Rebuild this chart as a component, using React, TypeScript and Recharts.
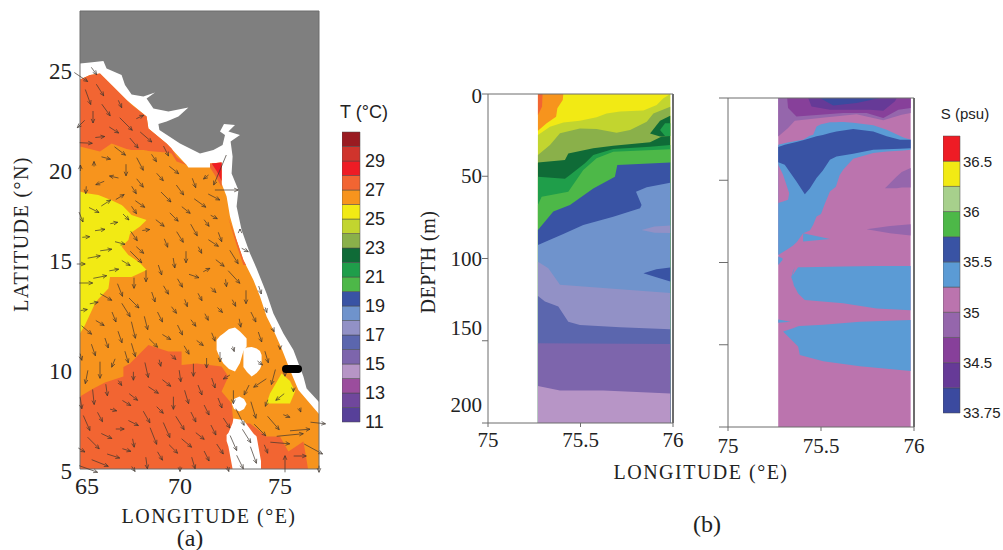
import React from 'react';
import {
  Area,
  Bar,
  BarChart,
  ComposedChart,
  ReferenceLine,
  Scatter,
  XAxis,
  YAxis,
} from 'recharts';

type Pair = number[];

const SERIF = '"Liberation Serif", serif';
const SANS = '"Liberation Sans", sans-serif';
const AXIS_GREY = '#6d6d6d';

// colour scales, top of the bar first
const tempColors = ['#9a1b21', '#d0342c', '#ee1c25', '#f26532', '#f7941d', '#f2ea14', '#c2d52f', '#8ab04a', '#0f6b37', '#1f9e4a', '#4db848', '#3953a4', '#6f93cc', '#9291c6', '#5b66ae', '#7d65ac', '#b795c6', '#9b4d9d', '#70479c', '#574099'];
const tempTickIndex = [0, 2, 4, 6, 8, 10, 12, 14, 16, 18];
const tempTickLabels = ['11', '13', '15', '17', '19', '21', '23', '25', '27', '29'];
const salColors = ['#ee1c25', '#f2ea14', '#a7d08c', '#4db848', '#3953a4', '#5b9bd5', '#bb74ae', '#9566ac', '#87409a', '#663a97', '#3b4a9f'];
const salTickIndex = [0, 2, 4, 6, 8, 10];
const salTickLabels = ['33.75', '34.5', '35', '35.5', '36', '36.5'];

const MAP_COLORS = { land: '#7f7f7f', white: '#ffffff', warm: '#f7941d', hot: '#f26532', red: '#ee1c25', cool: '#f2ea14' };

// map (a): [lon, lat] coast line and [lon, low lat, high lat] patches
const coastEdge: Pair[] = [[65, 25.28], [65.5, 25.32], [66.17, 25.4], [66.33, 25.03], [67.08, 24.7], [67.25, 24.2], [67.58, 23.73], [68.17, 23.62], [68.75, 23.83], [68.33, 23.53], [68.67, 23.03], [69.42, 22.87], [70.42, 23.07], [69.92, 22.62], [69.33, 22.37], [68.92, 22.25], [68.97, 21.95], [70, 21.28], [71, 20.78], [71.67, 20.95], [72.13, 21.2], [72.25, 21.7], [72, 21.87], [72.2, 22.25], [72.75, 22.2], [72.42, 21.87], [73, 21.7], [72.53, 21.37], [72.63, 20.62], [72.58, 19.78], [72.92, 18.95], [72.83, 18.12], [73.08, 16.95], [73.5, 15.78], [73.83, 15.03], [74.33, 13.78], [74.67, 12.78], [75.17, 11.78], [75.67, 10.95], [76.17, 9.62], [76.33, 9.03], [76.95, 8.35]];
const seaEdge: Pair[] = [[65, 24.48], [65.5, 24.7], [66, 24.78], [66.58, 24.2], [67.33, 23.45], [68.33, 22.62], [68.42, 22.03], [69.33, 21.28], [70.33, 20.2], [70.42, 20.08], [71.5, 20.08], [71.5, 20.28], [72.08, 20.32], [72.08, 19.28], [72.33, 18.62], [72.5, 17.62], [72.83, 16.45], [73.17, 15.45], [73.42, 14.95], [73.67, 14.45], [74, 13.62], [74.33, 12.62], [74.67, 11.95], [75.08, 11.03], [75.5, 9.95], [75.92, 8.95], [76.95, 7.75]];
const northHot: Pair[] = [[65, 21.12, 24.48], [65.5, 21, 24.7], [66, 20.87, 24.78], [66.58, 21.28, 24.2], [67.33, 21, 23.45], [67.58, 20.95, 23.2], [68.17, 20.95, 22.75], [68.33, 20.93, 22.62], [68.42, 20.9, 22.03], [69.33, 20.82, 21.28], [69.58, 20.78, 21.03], [69.83, 20.37, 20.6], [70.33, 20.2, 20.2]];
const gulfHot: Pair[] = [[71.5, 20.08, 20.28], [71.8, 19.6, 20.3], [72.08, 19.1, 20.32]];
const gulfRed: Pair[] = [[71.6, 20.25, 20.28], [71.83, 19.9, 20.3], [72.08, 19.4, 20.32]];
const coastHot: Pair[] = [[72.4, 17.6, 17.6], [72.83, 16.2, 16.45], [73.17, 15.2, 15.45], [73.3, 15.2, 15.2]];
const westCool: Pair[] = [[65, 11.78, 18.87], [65.25, 12.2, 18.8], [65.75, 13.28, 18.72], [65.92, 13.5, 18.7], [66.42, 14.03, 18.5], [66.5, 14.6, 18.47], [67.08, 14.6, 18.2], [67.17, 14.6, 18.12], [67.58, 14.6, 17.7], [68.33, 14.95, 17.45]];
const coolNotch: Pair[] = [[67.08, 16.12, 16.12], [67.42, 15.7, 16.45], [67.5, 15.65, 16.78], [68, 15.3, 17.12], [68.33, 14.95, 17.45], [68.6, 14.7, 17.6]];
const southHotEdge: Pair[] = [[65, 8.62], [65.67, 9.03], [66.25, 9.32], [67.17, 9.62], [67.17, 10.1], [67.5, 10.28], [67.92, 10.7], [68.42, 11.2], [69.42, 10.87], [70.08, 10.87], [70.08, 10.2], [70.83, 10.28], [72.08, 10.12], [72.42, 9.62], [72.08, 8.87], [72.58, 8.28], [72.67, 7.3], [73.5, 7.28], [74.33, 6.62], [75, 6.62], [75.42, 5.87], [76.17, 6.37], [76.33, 5.45], [76.4, 5]];
const southCool: Pair[] = [[74.33, 8.28, 8.28], [74.5, 8.28, 8.78], [75.08, 8.28, 9.78], [75.5, 8.28, 9.4], [75.75, 8.87, 8.87]];
const holeUpper: Pair[] = [[71.83, 10.95, 11.45], [72, 10.55, 11.65], [72.17, 10.28, 11.78], [72.45, 10, 12], [72.75, 9.87, 12.07], [73, 10.3, 11.87], [73.17, 10.9, 11.7], [73.33, 11.12, 11.53]];
const holeRight: Pair[] = [[73.17, 10.1, 11], [73.35, 9.85, 11.08], [73.58, 9.62, 11.1], [73.83, 9.8, 11.03], [74, 10, 10.9], [74.08, 10.2, 10.7]];
const holeRound: Pair[] = [[72.6, 8.25, 8.25], [72.7, 8, 8.5], [72.97, 7.87, 8.62], [73.2, 8, 8.5], [73.33, 8.25, 8.25]];
const holeSouth: Pair[] = [[72.33, 6.4, 6.7], [72.42, 6.12, 6.8], [72.63, 5, 7.3], [72.67, 5, 7.53], [73.17, 5, 7.45], [73.67, 5, 6.78], [73.83, 5, 6.62], [74.05, 5, 5.4]];
const transectLon = [75.3, 75.4, 75.5, 75.6, 75.7, 75.8, 75.9];
const transectLat = 10;
const mapTopTicks = [67, 69.33, 71.66, 74, 76.3];

// wind arrows: [lon, lat, u, v], lon/lat at the middle of the arrow
const windVectors: Pair[] = [
  [65.05, 24.6, 0.67, -0.45], [65.7, 24.9, 0.27, -0.37], [66, 23.95, 0.37, -0.58], [65.4, 23.6, 0.27, -0.75], [67, 23.25, 0.17, -0.37], [66.3, 22.95, 0.42, -0.58], [65.65, 22.6, 0, -0.6], [68, 22.6, 0.37, 0.17], [67.3, 22.25, 0.63, -0.63], [65.05, 22.25, -0.37, -0.37],
  [66.7, 21.95, 0.47, -0.3], [68.3, 21.6, 0.58, -0.5], [66, 21.6, 0.47, 0.05], [67.7, 21.3, 0.42, -0.5], [65.3, 21.3, 0.63, -0.03], [69.3, 20.9, 0.25, -0.5], [67, 20.9, 0.55, -0.42], [66.3, 20.55, 0.45, -0.12], [68.7, 20.55, 0.25, -0.37], [65.7, 20.25, 0, 0.25],
  [68, 20.25, 0.33, -0.63], [69.7, 19.95, 0.47, -0.37], [65.02, 20.05, 0, 0.3], [67.3, 19.95, 0, -0.58], [69, 19.6, 0.33, -0.37], [71.3, 19.6, -0.25, -0.2], [66.7, 19.6, -0.45, 0.1], [68, 19.3, 0.33, -0.42], [70.7, 19.3, 0.17, -0.47], [66, 19.3, -0.42, -0.17],
  [70, 18.95, 0.37, -0.5], [65.3, 18.95, -0.03, -0.37], [67.7, 18.95, 0.23, -0.37], [72, 19.95, -0.63, -1.5], [72.33, 18.95, 1.17, 0], [69.3, 18.6, 0.5, -0.5], [67, 18.6, 0.42, 0.25], [71.7, 18.6, 0.58, -0.3], [68, 18.25, 0.47, -0.33], [71, 18.3, 0.58, -0.42],
  [66.3, 18.3, 0.47, 0.3], [65.7, 17.95, 0.5, -0.25], [67.7, 17.95, 0.25, -0.37], [70.3, 17.95, 0.42, -0.33], [65.05, 17.6, 0.2, -0.5], [67.3, 17.6, 0.3, -0.3], [69.7, 17.6, 0.42, -0.42], [71.7, 17.6, 0.33, -0.17], [66.7, 17.3, 0.37, 0.07], [69, 17.3, 0.42, -0.33],
  [71.33, 17.3, 0.25, -0.33], [66, 16.95, 0.5, 0.07], [68.3, 16.95, 0.37, 0.05], [70.7, 16.95, 0.33, -0.58], [73, 16.95, 0, 0.1], [65.3, 16.6, 0.37, 0.03], [67.7, 16.65, 0.33, -0.47], [70, 16.6, 0.33, -0.53], [72, 16.6, 0.17, -0.47], [67, 16.3, 0.5, -0.13],
  [69.3, 16.3, 0.17, -0.42], [71.67, 16.3, 0.5, -0.33], [66.3, 15.95, 0.58, 0.08], [68, 15.95, 0.37, -0.33], [71, 15.95, 0.17, -0.33], [73.25, 15.95, 0.33, -0.17], [65.7, 15.6, 0.63, 0.12], [67.8, 15.6, 0.58, -0.58], [70.3, 15.6, 0, -0.58], [72.7, 15.6, 0.42, -0.67],
  [67.3, 15.3, 0.42, -0.25], [69.7, 15.3, 0.08, -0.5], [72, 15.3, 0.42, -0.33], [65.05, 15.25, 0.42, 0], [69, 14.95, 0.17, -0.5], [66.7, 14.95, 0.47, 0.08], [71.33, 14.95, 0.33, 0.17], [68.3, 14.65, 0, -0.58], [70.7, 14.65, 0.5, -0.17], [66, 14.6, 0.67, 0.13],
  [72.7, 14.6, 0.58, -0.63], [65.3, 14.3, 0.67, 0], [67.7, 14.3, 0, -0.53], [70, 14.3, 0.25, -0.42], [72.3, 14.3, 0.05, -0.37], [67, 13.95, 0.25, -0.63], [69.3, 13.95, 0.25, -0.42], [71.67, 13.95, 0.25, -0.25], [74, 13.95, 0.13, -0.4], [66.3, 13.6, 0.58, -0.33],
  [68.67, 13.6, 0.17, -0.5], [71, 13.6, 0.2, -0.37], [73.3, 13.6, 0, -0.67], [65.7, 13.3, 0.42, 0.08], [67.7, 13.3, 0.5, -0.5], [70.3, 13.3, 0.13, -0.37], [72.7, 13.3, 0.17, -0.33], [65.2, 12.95, 0.33, 0.05], [67.3, 12.95, 0.42, -0.67], [69.7, 12.95, 0.25, -0.33],
  [72, 12.95, 0.25, -0.25], [74.3, 12.95, 0.08, -0.25], [66.7, 12.6, 0.2, -0.5], [69, 12.6, 0.25, -0.5], [71.33, 12.6, 0.17, -0.33], [73.67, 12.6, 0.25, -0.5], [66, 12.3, 0.42, -0.25], [68.3, 12.3, 0.17, -0.67], [70.67, 12.3, 0.25, -0.33], [73, 12.3, 0.08, -0.42],
  [65.33, 11.95, 0.5, -0.42], [67.67, 11.95, 0.2, -0.83], [70, 11.95, 0.25, -0.5], [74.67, 11.95, 0.08, -0.17], [67, 11.6, 0.2, -0.58], [69.33, 11.6, 0.42, -0.25], [71.67, 11.6, 0.17, -0.42], [74, 11.6, 0.17, -0.5], [66.33, 11.3, 0.17, -0.5], [68.67, 11.3, 0.42, -0.42],
  [71, 11.3, 0.33, -0.25], [65.67, 10.95, 0.2, -0.58], [67.67, 10.95, 0.2, -0.67], [70.33, 10.95, 0.25, -0.42], [72.67, 11, 0.08, -0.25], [75, 11.05, 0, -0.15], [65.05, 10.6, 0.08, -0.33], [67.33, 10.6, 0.17, -0.58], [69.67, 10.6, 0.25, -0.25], [72, 10.6, 0, -0.5],
  [74.33, 10.6, 0.17, -0.58], [66.67, 10.3, -0.17, -0.42], [69, 10.3, 0.08, -0.33], [74, 10.3, 0.25, -0.2], [66, 9.95, 0, -0.83], [68.33, 9.95, 0.17, -0.75], [70.67, 9.95, 0, -0.63], [71.33, 10.3, 0, -0.5], [65.33, 9.6, -0.13, -0.67], [67.67, 9.65, 0, -0.42],
  [70, 9.65, 0.08, -0.58], [72.33, 9.6, -0.33, -0.2], [74.67, 9.6, -0.2, -0.75], [75.25, 9.85, 0, -0.42], [67, 9.3, 0.17, -0.25], [69.33, 9.3, 0.42, -0.33], [71.67, 9.3, 0.17, -0.5], [74, 9.3, -0.63, -0.42], [66.33, 8.95, 0.08, -0.58], [68.67, 8.95, 0.5, -0.33],
  [71, 8.95, 0.2, -0.5], [73.33, 8.95, -0.25, -0.5], [75.67, 8.95, 0, -0.17], [65.67, 8.6, 0.08, -0.75], [67.67, 8.6, 0.42, -0.33], [70.33, 8.6, 0.2, -0.67], [72.67, 8.6, 0, -0.67], [75, 8.6, -0.42, -0.33], [65.05, 8.3, 0.08, -0.58], [67.33, 8.3, 0.42, -0.25],
  [69.67, 8.3, 0, -0.63], [72, 8.3, 0.2, -0.5], [74.33, 8.3, -0.13, -0.33], [66.67, 7.95, 0.33, -0.08], [69, 7.95, 0.33, -0.33], [71.33, 7.95, 0.25, -0.5], [73.67, 7.95, 0.25, -0.83], [76, 7.95, 0.08, -0.2], [66, 7.6, 0.25, -0.47], [68.33, 7.6, 0.33, -0.58],
  [70.67, 7.6, 0.25, -0.5], [73, 7.6, 0.42, -0.83], [75.33, 7.65, 0.33, -0.13], [65.33, 7.3, 0.33, -0.75], [67.67, 7.3, 0.5, -0.25], [70, 7.3, 0.42, -0.67], [72.33, 7.3, 0.33, -0.5], [74.67, 7.3, 0.58, -0.67], [76.9, 7.3, 0.75, -0.08], [67, 7, 0.42, 0],
  [69.33, 6.95, 0.33, -0.75], [71.67, 6.95, 0.25, -0.5], [74, 6.95, 0.58, -0.58], [76, 6.95, 1, 0.08], [75.5, 6.7, 1.33, 0.13], [66.33, 6.65, 0.53, -0.25], [68.67, 6.65, 0.33, -0.83], [71, 6.65, 0.42, -0.33], [73.33, 6.65, 0.42, -0.67], [65.67, 6.3, 0.58, -0.58],
  [67.67, 6.3, 0.08, -0.42], [70.33, 6.3, 0.5, -0.42], [72.67, 6.3, 0.33, -0.75], [75, 6.3, 0.97, -0.08], [76.67, 6, 0.92, -0.5], [65.08, 5.95, 0.33, -0.2], [67.33, 5.95, 0.42, -0.13], [69.67, 6, 0.42, -0.42], [72, 6, 0.33, -0.5], [74.3, 6, 0.17, -0.42],
  [66.67, 5.65, 0.63, -0.2], [69, 5.65, 0.25, -0.42], [71.33, 5.65, 0.25, -0.5], [73.67, 5.7, 0.3, -0.83], [76, 5.65, 0.63, 0], [66, 5.3, 0.83, -0.33], [68.33, 5.3, 0.08, -0.58], [70.67, 5.3, 0.17, -0.58], [73, 5.35, 0.33, -0.67], [75.25, 5.25, 0, 0.83],
  [65.42, 5, 0.92, -0.33], [67.67, 5, 0.17, -0.25], [70, 5, 0, -0.25], [72.4, 5, 0.08, -0.25], [76.95, 5, 0, -0.33],
];

// section (b) temperature: [lon, depth] top edge of each layer
const tYellow: Pair[] = [[75.27, 0], [75.985, 0]];
const tOrange: Pair[] = [[75.27, 22.3], [75.317, 17.8], [75.368, 13.8], [75.375, 8.7], [75.404, 3.6], [75.407, 0]];
const tOrangeRed: Pair[] = [[75.27, 12.8], [75.292, 7.7], [75.295, 0]];
const tYellowGreen: Pair[] = [[75.27, 24.9], [75.335, 19.9], [75.407, 17.4], [75.497, 16.2], [75.587, 14.2], [75.641, 11.8], [75.714, 10.7], [75.84, 10.1], [75.912, 6.7], [75.948, 2.6], [75.985, 0]];
const tOlive: Pair[] = [[75.27, 37.1], [75.335, 31], [75.389, 23.9], [75.497, 20.9], [75.587, 21.3], [75.695, 23.5], [75.768, 21.9], [75.858, 16.8], [75.894, 11.8], [75.985, 7.7]];
const tDarkGreen: Pair[] = [[75.27, 41.7], [75.416, 40.1], [75.434, 36.1], [75.569, 33], [75.677, 31.4], [75.876, 29.4], [75.939, 25.9], [75.985, 25.5]];
const tMidGreen: Pair[] = [[75.27, 50.3], [75.416, 51.5], [75.443, 49.2], [75.524, 42.1], [75.569, 37.1], [75.677, 33.4], [75.876, 32], [75.985, 31]];
const tLightGreen: Pair[] = [[75.27, 67.5], [75.29, 62.4], [75.434, 59.4], [75.515, 46.2], [75.587, 39.1], [75.677, 35.1], [75.985, 33.6]];
const tDarkBlue: Pair[] = [[75.27, 82.7], [75.353, 71.5], [75.443, 67.5], [75.569, 57.4], [75.686, 50.3], [75.699, 43.2], [75.985, 41.7]];
const tLightBlue: Pair[] = [[75.27, 91.8], [75.407, 85.1], [75.515, 79.6], [75.677, 74.6], [75.822, 69.5], [75.83, 67.5], [75.8, 59.4], [75.858, 56.7], [75.985, 53.9]];
const tLavender: Pair[] = [[75.27, 101.9], [75.326, 106], [75.389, 116], [75.623, 118], [75.985, 121]];
const tIndigo: Pair[] = [[75.27, 122.8], [75.308, 126.2], [75.38, 129.2], [75.434, 138.4], [75.497, 140.4], [75.714, 141.8], [75.985, 143]];
const tPurple: Pair[] = [[75.27, 151.5], [75.985, 152]];
const tMauve: Pair[] = [[75.27, 177.5], [75.389, 180.3], [75.623, 180.3], [75.985, 182]];
// [lon, top depth, bottom depth]
const tGreenCore: Pair[] = [[75.876, 24, 24], [75.93, 16.2, 25.9], [75.985, 13.2, 25.5]];
const tGreenInner: Pair[] = [[75.93, 21.9, 21.9], [75.957, 17.8, 25.5], [75.985, 17.8, 25.5]];
const tLavenderLens: Pair[] = [[75.83, 82.7, 82.7], [75.9, 80.6, 84.3], [75.985, 80, 84.5]];
const tBlueLens: Pair[] = [[75.84, 109, 109], [75.91, 106.6, 111.4], [75.985, 105.4, 114]];

// section (b) salinity
const sBase: Pair[] = [[75.27, 0, 200], [75.982, 0, 200]];
const sLightPurple: Pair[] = [[75.27, 0, 23.4], [75.323, 0, 18.3], [75.359, 0, 13.8], [75.494, 0, 12.2], [75.691, 0, 9.9], [75.835, 0, 13.6], [75.934, 0, 10.2], [75.982, 0, 9.1]];
const sPurple: Pair[] = [[75.318, 0, 0], [75.323, 0, 6.1], [75.368, 0, 11.2], [75.494, 0, 10.2], [75.619, 0, 9.1], [75.745, 0, 9.1], [75.835, 0, 12.2], [75.916, 0, 7.1], [75.982, 0, 6.1]];
const sViolet: Pair[] = [[75.431, 0, 0], [75.449, 0, 5.1], [75.548, 0, 7.1], [75.763, 0, 7.1], [75.835, 0, 7.7], [75.898, 0, 2], [75.907, 0, 0]];
const sNavy: Pair[] = [[75.494, 0, 0], [75.566, 0, 4.5], [75.691, 0, 3], [75.817, 0, 0]];
const sFreshTongue: Pair[] = [[75.27, 28.4, 95.4], [75.32, 27, 92], [75.35, 26.4, 89.7], [75.37, 26, 87.6], [75.404, 25.4, 82.2], [75.44, 23, 80.5], [75.458, 22.3, 77.1], [75.476, 17.3, 72.1], [75.5, 16, 70.5], [75.52, 15.5, 64.5], [75.548, 14.8, 56.8], [75.58, 14.7, 54], [75.6, 14.6, 47], [75.619, 14.6, 43.6], [75.673, 15, 36.9], [75.781, 16.6, 33.5], [75.853, 19.3, 32.5], [75.943, 24, 31.9], [75.982, 25.4, 31.5]];
const sCore: Pair[] = [[75.27, 29.8, 39], [75.305, 28.4, 40.6], [75.368, 26.8, 50.7], [75.413, 25.4, 58.5], [75.44, 24.5, 55], [75.476, 23.3, 48.7], [75.51, 22.5, 44], [75.548, 21.3, 37.6], [75.583, 20.3, 35.5], [75.673, 18.9, 33.9], [75.781, 20.3, 31.5], [75.853, 23.3, 31.1], [75.925, 25.4, 30.9], [75.982, 25.4, 30.5]];
const sWedge: Pair[] = [[75.27, 40.6, 63.9], [75.296, 46.7, 62.9], [75.323, 55.8, 61.9], [75.329, 57.9, 57.9]];
const sPatchUpper: Pair[] = [[75.844, 54.8, 54.8], [75.907, 47.7, 54.8], [75.934, 45, 54.4], [75.982, 42.6, 54.4]];
const sPatchLower: Pair[] = [[75.745, 79.8, 79.8], [75.871, 77.8, 82.2], [75.982, 76.7, 83.6]];
const sSpike: Pair[] = [[75.404, 82.2, 87.3], [75.548, 85.7, 85.7]];
const sSliver: Pair[] = [[75.27, 96.4, 101.5], [75.293, 97.4, 98.5]];
const sBlockUpper: Pair[] = [[75.34, 109, 109], [75.35, 105, 112], [75.36, 102.9, 115.7], [75.345, 108, 111.7], [75.377, 102.9, 118.8], [75.413, 102.9, 122.8], [75.619, 102.5, 124.8], [75.799, 102.1, 127.9], [75.982, 102.1, 129]];
const sBlockLower: Pair[] = [[75.296, 142, 142], [75.35, 140, 148], [75.377, 138.7, 151], [75.386, 138.6, 156.3], [75.512, 137.8, 160], [75.709, 136, 163], [75.982, 135, 165.9]];
const sThinTongue: Pair[] = [[75.27, 134.6, 136.6], [75.338, 136, 136]];

const lonTicks = [75, 75.5, 76];
const depthTicks = [0, 50, 100, 150, 200];
const latTicks = [5, 10, 15, 20, 25];
const mapLonTicks = [65, 70, 75];

const toRangeRows = (rows: Pair[]) => rows.map(([x, lo, hi]) => ({ x, band: [lo, hi] }));
const toBelowRows = (rows: Pair[], bottom: number) => rows.map(([x, d]) => ({ x, band: [d, bottom] }));
const toAboveRows = (rows: Pair[], floor: number) => rows.map(([x, d]) => ({ x, band: [floor, d] }));

const band = (key: string, data: object[], fill: string) => (
  <Area
    key={key}
    data={data}
    dataKey="band"
    type="linear"
    fill={fill}
    fillOpacity={1}
    stroke="none"
    dot={false}
    activeDot={false}
    isAnimationActive={false}
  />
);

const windRows = windVectors.map(([x, y, u, v]) => ({ x, y, u, v }));
const transectRows = transectLon.map((x) => ({ x, y: transectLat }));

const WindArrow = (props: any) => {
  const { cx, cy, payload } = props;
  const dx = payload.u * 20;
  const dy = -payload.v * 20;
  const tipX = cx + dx / 2;
  const tipY = cy + dy / 2;
  const angle = Math.atan2(dy, dx);
  const head = 4.5;
  const left = [tipX - head * Math.cos(angle - 0.42), tipY - head * Math.sin(angle - 0.42)];
  const right = [tipX - head * Math.cos(angle + 0.42), tipY - head * Math.sin(angle + 0.42)];
  return (
    <g stroke="#3d352e" strokeWidth={0.7} fill="none">
      <line x1={cx - dx / 2} y1={cy - dy / 2} x2={tipX} y2={tipY} />
      <polyline points={`${left[0]},${left[1]} ${tipX},${tipY} ${right[0]},${right[1]}`} />
    </g>
  );
};

const TransectDot = (props: any) => <circle cx={props.cx} cy={props.cy} r={4} fill="#000" />;

// the typed labels in the source sit a little off their ticks
const LatTick = ({ x, y, payload }: any) => (
  <text x={x - 6} y={(payload.value === 15 ? y - 10 : y) + 10} textAnchor="end" fontFamily={SERIF} fontSize={23} fill="#222">
    {payload.value}
  </text>
);
const MapLonTick = ({ x, y, payload }: any) => (
  <text x={payload.value === 65 ? x + 7 : x} y={y + 23} textAnchor="middle" fontFamily={SERIF} fontSize={24} fill="#222">
    {payload.value}
  </text>
);
const depthNudge: Record<number, number> = { 0: 2, 50: 0, 100: 0, 150: -13, 200: -18 };
const DepthTick = ({ x, y, payload }: any) => (
  <text x={x} y={y + depthNudge[payload.value] + 7} textAnchor="end" fontFamily={SERIF} fontSize={21} fill="#222">
    {payload.value}
  </text>
);

const MapPanel = () => (
  <ComposedChart
    width={340}
    height={550}
    margin={{ top: 11, right: 21, bottom: 51, left: 0 }}
    style={{ position: 'absolute', left: 0, top: 0, overflow: 'visible' }}
  >
    <XAxis dataKey="x" type="number" domain={[65, 76.95]} ticks={mapLonTicks} interval={0} height={30} stroke={AXIS_GREY} tickSize={0} tick={<MapLonTick />} />
    <XAxis xAxisId="top" orientation="top" dataKey="x" type="number" domain={[65, 76.95]} ticks={mapTopTicks} interval={0} height={0} mirror stroke={AXIS_GREY} tickSize={2} tick={() => <g />} />
    <YAxis dataKey="y" type="number" domain={[5, 27.9]} ticks={latTicks} interval={0} width={80} stroke={AXIS_GREY} tickSize={0} tick={<LatTick />} />
    {band('land', toRangeRows([[65, 5, 27.9], [76.95, 5, 27.9]]), MAP_COLORS.land)}
    {band('coast', toAboveRows(coastEdge, 5), MAP_COLORS.white)}
    {band('sea', toAboveRows(seaEdge, 5), MAP_COLORS.warm)}
    {band('northHot', toRangeRows(northHot), MAP_COLORS.hot)}
    {band('gulfHot', toRangeRows(gulfHot), MAP_COLORS.hot)}
    {band('gulfRed', toRangeRows(gulfRed), MAP_COLORS.red)}
    {band('coastHot', toRangeRows(coastHot), MAP_COLORS.hot)}
    {band('westCool', toRangeRows(westCool), MAP_COLORS.cool)}
    {band('coolNotch', toRangeRows(coolNotch), MAP_COLORS.warm)}
    {band('southHot', toAboveRows(southHotEdge, 5), MAP_COLORS.hot)}
    {band('southCool', toRangeRows(southCool), MAP_COLORS.cool)}
    {band('holeUpper', toRangeRows(holeUpper), MAP_COLORS.white)}
    {band('holeRight', toRangeRows(holeRight), MAP_COLORS.white)}
    {band('holeRound', toRangeRows(holeRound), MAP_COLORS.white)}
    {band('holeSouth', toRangeRows(holeSouth), MAP_COLORS.white)}
    <ReferenceLine x={76.95} stroke={AXIS_GREY} />
    <ReferenceLine y={27.9} stroke={AXIS_GREY} />
    <Scatter data={windRows} dataKey="y" shape={WindArrow} isAnimationActive={false} />
    <Scatter data={transectRows} dataKey="y" shape={TransectDot} isAnimationActive={false} />
  </ComposedChart>
);

const sectionTick = { fontFamily: SERIF, fontSize: 21, fill: '#222' };

const TempSection = () => (
  <ComposedChart
    width={260}
    height={470}
    margin={{ top: 94, right: 27, bottom: 17, left: 0 }}
    style={{ position: 'absolute', left: 440, top: 0, overflow: 'visible' }}
  >
    <XAxis dataKey="x" type="number" domain={[75, 76]} ticks={lonTicks} interval={0} height={30} stroke={AXIS_GREY} tickSize={4} tickMargin={5} tick={sectionTick} />
    <YAxis type="number" reversed domain={[0, 200]} ticks={depthTicks} interval={0} width={48} stroke={AXIS_GREY} tickSize={6} tickMargin={0} tick={<DepthTick />} />
    {band('t0', toBelowRows(tYellow, 200), tempColors[5])}
    {band('t1', toAboveRows(tOrange, 0), tempColors[4])}
    {band('t2', toAboveRows(tOrangeRed, 0), tempColors[3])}
    {band('t3', toBelowRows(tYellowGreen, 200), tempColors[6])}
    {band('t4', toBelowRows(tOlive, 200), tempColors[7])}
    {band('t5', toRangeRows(tGreenCore), tempColors[8])}
    {band('t6', toRangeRows(tGreenInner), tempColors[9])}
    {band('t7', toBelowRows(tDarkGreen, 200), tempColors[8])}
    {band('t8', toBelowRows(tMidGreen, 200), tempColors[9])}
    {band('t9', toBelowRows(tLightGreen, 200), tempColors[10])}
    {band('t10', toBelowRows(tDarkBlue, 200), tempColors[11])}
    {band('t11', toBelowRows(tLightBlue, 200), tempColors[12])}
    {band('t12', toRangeRows(tLavenderLens), tempColors[13])}
    {band('t13', toRangeRows(tBlueLens), tempColors[11])}
    {band('t14', toBelowRows(tLavender, 200), tempColors[13])}
    {band('t15', toBelowRows(tIndigo, 200), tempColors[14])}
    {band('t16', toBelowRows(tPurple, 200), tempColors[15])}
    {band('t17', toBelowRows(tMauve, 200), tempColors[16])}
    <ReferenceLine y={0} stroke={AXIS_GREY} />
    <ReferenceLine x={76} stroke={AXIS_GREY} strokeWidth={2} />
  </ComposedChart>
);

const SalSection = () => (
  <ComposedChart
    width={250}
    height={470}
    margin={{ top: 98, right: 26, bottom: 13, left: 0 }}
    style={{ position: 'absolute', left: 690, top: 0, overflow: 'visible' }}
  >
    <XAxis dataKey="x" type="number" domain={[75, 76]} ticks={lonTicks} interval={0} height={30} stroke={AXIS_GREY} tickSize={4} tickMargin={7} tick={sectionTick} />
    <YAxis type="number" reversed domain={[0, 200]} ticks={depthTicks} interval={0} width={38} stroke={AXIS_GREY} tickSize={9} tick={() => <g />} />
    {band('s0', toRangeRows(sBase), salColors[6])}
    {band('s1', toRangeRows(sLightPurple), salColors[7])}
    {band('s2', toRangeRows(sPurple), salColors[8])}
    {band('s3', toRangeRows(sViolet), salColors[9])}
    {band('s4', toRangeRows(sNavy), salColors[10])}
    {band('s5', toRangeRows(sFreshTongue), salColors[5])}
    {band('s6', toRangeRows(sWedge), salColors[6])}
    {band('s7', toRangeRows(sCore), salColors[4])}
    {band('s8', toRangeRows(sPatchUpper), salColors[7])}
    {band('s9', toRangeRows(sPatchLower), salColors[7])}
    {band('s10', toRangeRows(sSpike), salColors[5])}
    {band('s11', toRangeRows(sSliver), salColors[5])}
    {band('s12', toRangeRows(sBlockUpper), salColors[5])}
    {band('s13', toRangeRows(sBlockLower), salColors[5])}
    {band('s14', toRangeRows(sThinTongue), salColors[5])}
    <ReferenceLine y={0} stroke={AXIS_GREY} />
    <ReferenceLine x={76} stroke={AXIS_GREY} strokeWidth={2} />
  </ComposedChart>
);

// one stacked column per colour bar, the bottom colour is stacked first
const ColorBar = ({ colors, left, top, height, barWidth, ticks, labels, fontSize, gap }: any) => {
  const row: Record<string, number | string> = { name: 'scale' };
  const reversedColors = [...colors].reverse();
  reversedColors.forEach((_: string, i: number) => {
    row[`c${i}`] = 1;
  });
  return (
    <BarChart
      width={barWidth + 43}
      height={height + 24}
      data={[row]}
      margin={{ top: 12, right: 0, bottom: 12, left: 0 }}
      barCategoryGap={0}
      style={{ position: 'absolute', left, top: top - 12 }}
    >
      <XAxis dataKey="name" hide />
      <YAxis
        orientation="right"
        type="number"
        domain={[0, colors.length]}
        ticks={ticks}
        interval={0}
        width={43}
        axisLine={false}
        tickLine={false}
        tickSize={0}
        tickMargin={gap}
        tickFormatter={(v: number) => labels[ticks.indexOf(v)]}
        tick={{ fontFamily: SANS, fontSize, fill: '#222' }}
      />
      {reversedColors.map((c: string, i: number) => (
        <Bar key={c + i} dataKey={`c${i}`} stackId="scale" fill={c} stroke="#4a4a4a" strokeWidth={0.5} isAnimationActive={false} />
      ))}
    </BarChart>
  );
};

const Caption = ({ x, y, children, rotate, font = SERIF, size = 20, spacing = 1 }: any) => (
  <div
    style={{
      position: 'absolute',
      left: x,
      top: y,
      transform: `translate(-50%, -50%)${rotate ? ` rotate(${rotate}deg)` : ''}`,
      fontFamily: font,
      fontSize: size,
      letterSpacing: spacing,
      color: '#222',
      whiteSpace: 'nowrap',
    }}
  >
    {children}
  </div>
);

export default function App() {
  return (
    <div style={{ position: 'absolute', left: 0, top: 0, width: 1003, height: 550, overflow: 'hidden', background: '#fff' }}>
      <MapPanel />
      <TempSection />
      <SalSection />
      <ColorBar colors={tempColors} left={342} top={132} height={290} barWidth={18} ticks={tempTickIndex} labels={tempTickLabels} fontSize={18} gap={5} />
      <ColorBar colors={salColors} left={943} top={136} height={277} barWidth={17} ticks={salTickIndex} labels={salTickLabels} fontSize={15} gap={3} />
      <Caption x={21} y={234} rotate={-90} spacing={1.4}>LATITUDE (°N)</Caption>
      <Caption x={209} y={516} spacing={1.5}>LONGITUDE (°E)</Caption>
      <Caption x={190} y={538} size={24} spacing={0}>(a)</Caption>
      <Caption x={364} y={112} font={SANS} size={18} spacing={0}>T (°C)</Caption>
      <Caption x={428} y={262} rotate={-90} spacing={0.5}>DEPTH (m)</Caption>
      <Caption x={701} y={472} spacing={1.5}>LONGITUDE (°E)</Caption>
      <Caption x={707} y={524} size={24} spacing={0}>(b)</Caption>
      <Caption x={965} y={113} font={SANS} size={15} spacing={0}>S (psu)</Caption>
    </div>
  );
}
